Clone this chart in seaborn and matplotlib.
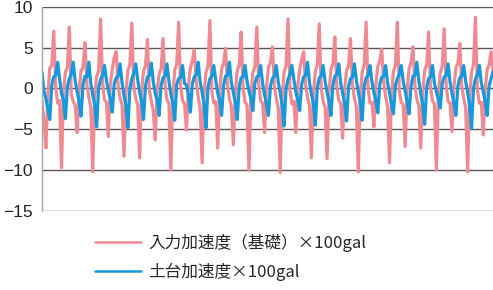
import numpy as np
import pandas as pd
import matplotlib
matplotlib.use("Agg")
import matplotlib.pyplot as plt
import seaborn as sns
from matplotlib.lines import Line2D

# ---- data ----
input_accel = [
    -1.5, -4.0,
    -7.3, -0.8, 2.5, 2.8, 7.0, 0.2, -1.8, -1.5,
    -9.7, -0.5, 2.0, 2.6, 7.5, -0.8, -1.6, -2.1,
    -5.4, -0.2, 2.1, 2.6, 5.6, 0.4, -1.1, -2.3,
    -10.2, -1.0, 1.5, 2.1, 8.5, 0.8, -1.4, -1.7,
    -5.9, 0.5, 2.4, 3.8, 4.5, 0.3, -1.2, -2.0,
    -8.3, -0.6, 2.2, 2.9, 8.0, 0.1, -1.2, -2.0,
    -8.5, -0.4, 2.1, 2.8, 6.0, -0.2, -1.6, -2.8,
    -6.3, -0.2, 1.8, 2.4, 6.1, 0.6, -1.4, -1.8,
    -10.0, -0.9, 2.3, 3.0, 8.1, 0.3, -1.5, -1.9,
    -5.1, 0.4, 2.5, 3.4, 4.7, 0.8, -1.0, -2.4,
    -9.1, -0.7, 2.0, 2.7, 8.3, -0.4, -1.8, -1.6,
    -7.3, -0.3, 2.4, 3.1, 4.9, 0.5, -1.3, -2.2,
    -6.9, -0.5, 2.2, 2.9, 6.9, 0.0, -1.7, -2.0,
    -10.0, -0.8, 1.9, 2.6, 7.5, 0.6, -1.5, -1.8,
    -5.4, 0.2, 2.6, 3.2, 5.1, 0.3, -1.2, -2.4,
    -10.3, -1.1, 2.0, 2.8, 8.5, -0.2, -1.9, -1.6,
    -5.4, 0.3, 2.4, 3.5, 4.5, 0.4, -1.1, -2.1,
    -8.5, -0.6, 2.1, 2.9, 7.9, 0.1, -1.6, -2.3,
    -8.6, -0.5, 2.3, 3.0, 6.3, 0.2, -1.4, -1.9,
    -6.1, -0.1, 2.2, 2.7, 6.1, 0.5, -1.2, -2.2,
    -10.2, -1.0, 2.0, 2.9, 8.1, 0.0, -1.8, -1.7,
    -4.7, 0.5, 2.7, 3.4, 4.8, 0.7, -1.0, -2.3,
    -9.1, -0.8, 2.1, 2.8, 8.1, -0.3, -1.7, -2.0,
    -7.1, -0.3, 2.4, 3.2, 5.1, 0.4, -1.3, -2.1,
    -7.3, -0.4, 2.2, 2.8, 6.9, 0.1, -1.5, -1.9,
    -10.0, -0.9, 1.9, 2.7, 7.3, 0.5, -1.6, -1.8,
    -5.3, 0.2, 2.5, 3.1, 5.5, 0.2, -1.2, -2.4,
    -10.2, -1.1, 2.0, 2.9, 8.7, -0.1, -1.8, -1.7,
    -5.7, -0.2, 2.3, 2.9, 4.5, 2.0,
]

base_accel = [
    2.0, -0.3, -1.3, -2.5,
    -3.8, 0.4, 1.4, 1.6, 3.2, 1.2, -0.6, -1.5,
    -3.7, 0.2, 1.2, 1.7, 3.2, 0.9, -0.4, -1.6,
    -3.4, 0.5, 1.5, 1.4, 3.2, 0.6, -0.8, -2.0,
    -4.7, 0.1, 1.1, 1.6, 2.8, 1.0, -0.3, -1.3,
    -2.9, 0.6, 1.3, 1.5, 3.0, 0.7, -0.9, -2.1,
    -4.8, 0.0, 1.2, 1.8, 3.0, 1.1, -0.5, -1.6,
    -3.8, 0.3, 1.4, 1.6, 3.1, 0.8, -0.6, -1.4,
    -3.3, 0.4, 1.3, 1.5, 3.0, 0.9, -0.7, -1.8,
    -3.9, 0.5, 1.2, 1.4, 2.8, 0.6, 0.4, -0.8,
    -2.9, 0.6, 1.4, 1.7, 3.2, 0.8, -0.4, -2.0,
    -4.8, 0.1, 1.2, 1.5, 2.8, 1.0, -0.6, -1.5,
    -3.3, 0.4, 1.5, 1.6, 3.2, 0.7, -0.5, -1.7,
    -3.8, 0.2, 1.3, 1.4, 2.8, 0.9, -0.3, -1.2,
    -2.7, 0.6, 1.4, 1.6, 2.8, 0.6, -0.8, -1.9,
    -3.3, 0.3, 1.2, 1.5, 2.8, 0.8, -0.5, -2.1,
    -4.6, 0.0, 1.1, 1.7, 2.8, 1.1, -0.4, -1.4,
    -2.7, 0.5, 1.4, 1.6, 3.2, 0.7, -0.7, -1.9,
    -4.5, 0.1, 1.3, 1.5, 2.8, 0.9, -0.5, -1.6,
    -3.3, 0.4, 1.5, 1.7, 3.0, 0.6, -0.6, -1.8,
    -4.0, 0.2, 1.2, 1.4, 3.0, 1.0, -0.4, -1.7,
    -3.9, 0.3, 1.3, 1.6, 2.8, 0.8, -0.5, -1.5,
    -3.0, 0.5, 1.4, 1.5, 2.8, 0.7, -0.6, -1.9,
    -3.1, 0.4, 1.2, 1.7, 2.8, 0.9, -0.3, -1.6,
    -3.1, 0.3, 1.5, 1.6, 3.2, 1.0, -0.7, -2.0,
    -4.4, 0.1, 1.2, 1.4, 2.8, 0.6, -0.4, -1.3,
    -2.4, 0.6, 1.4, 1.6, 3.0, 0.8, -0.6, -1.8,
    -3.3, 0.3, 1.3, 1.5, 2.8, 0.9, -0.5, -2.0,
    -4.9, 0.0, 1.2, 1.7, 2.8, 0.7, -0.4, -1.6,
    -3.3, 0.3, 1.2, 2.0,
]

series_names = ["入力加速度（基礎）×100gal", "土台加速度×100gal"]
y_ticks = [10, 5, 0, -5, -10, -15]
y_tick_labels = ["10", "5", "0", "\u22125", "\u221210", "\u221215"]

colors = ["#ef8a93", "#1598dc"]

# ---- build table ----
n = len(input_accel)
df = pd.concat([
    pd.DataFrame({"t": np.arange(n), "v": input_accel, "s": series_names[0]}),
    pd.DataFrame({"t": np.arange(len(base_accel)), "v": base_accel, "s": series_names[1]}),
], ignore_index=True)

sns.set_theme(style="white")
plt.rcParams["font.family"] = ["Noto Sans CJK JP", "DejaVu Sans"]

fig = plt.figure(figsize=(4.93, 2.90), dpi=100)
ax = fig.add_axes([42 / 493, 79 / 290, 451 / 493, 204.3 / 290])

sns.lineplot(data=df, x="t", y="v", hue="s", hue_order=series_names,
             palette=colors, linewidth=2.3, ax=ax, legend=False)

ax.set_xlim(0, n - 1)
ax.set_ylim(-15, 10)
ax.set_xticks([])
ax.set_yticks(y_ticks)
ax.set_yticklabels(y_tick_labels, fontsize=12.5, family=["Liberation Sans", "DejaVu Sans"],
                   color="#222222")
ax.tick_params(axis="y", length=0, pad=6.5)
ax.set_xlabel("")
ax.set_ylabel("")
for yv in y_ticks:
    ax.axhline(yv, color="#5e5656", lw=1.0, zorder=0)
for side in ["top", "right", "bottom"]:
    ax.spines[side].set_visible(False)
ax.spines["left"].set_color("#a8a8a8")
ax.spines["left"].set_linewidth(1.0)

handles = [Line2D([], [], color=c, lw=1.8) for c in colors]
fig.legend(handles, series_names, loc="upper left",
           bbox_to_anchor=(90 / 493, 1 - 229 / 290), frameon=False,
           handlelength=2.75, handletextpad=0.45,
           labelspacing=0.62, borderaxespad=0, borderpad=0.3,
           prop={"family": ["Noto Sans CJK JP", "DejaVu Sans"], "size": 12})

fig.savefig("out.png", dpi=100)
